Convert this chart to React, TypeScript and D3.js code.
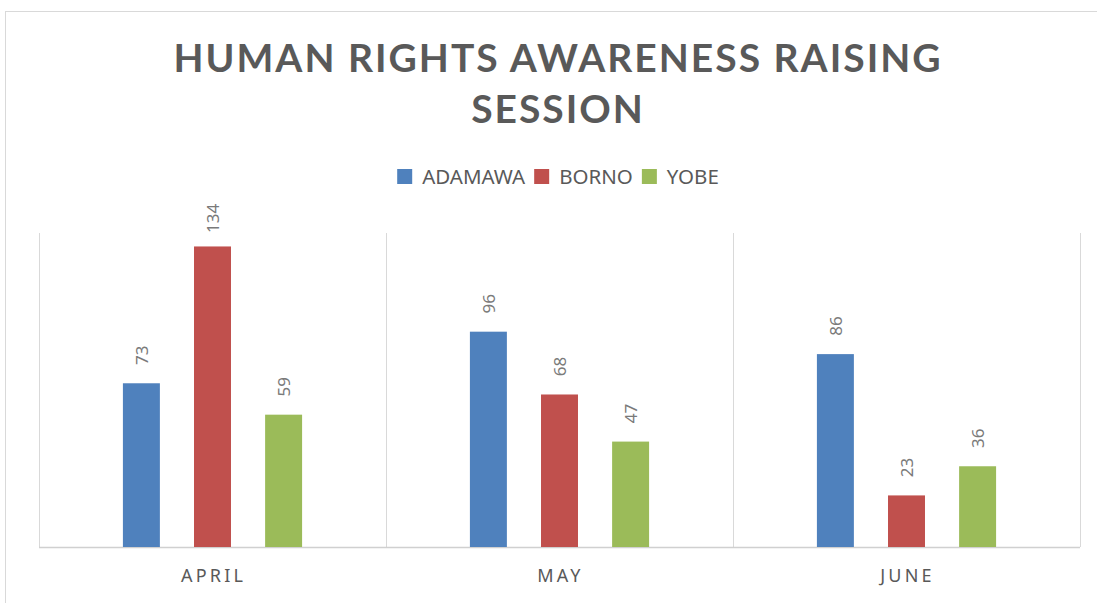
import React, { useEffect, useRef, ReactElement } from 'react'
import * as d3 from 'd3'

const months = ['APRIL', 'MAY', 'JUNE']
const states = ['ADAMAWA', 'BORNO', 'YOBE']
const adamawa = [73, 96, 86]
const borno = [134, 68, 23]
const yobe = [59, 47, 36]
const colors = ['#4f81bd', '#c0504d', '#9bbb59']
const titleLines = ['HUMAN RIGHTS AWARENESS RAISING', 'SESSION']

const App = (): ReactElement => {
  const ref = useRef<SVGSVGElement>(null)

  const drawChart = () => {
    const svg = d3.select(ref.current)
    svg.selectAll('*').remove()

    const width = 1097
    const height = 603
    const margin = { top: 233, right: 17, bottom: 56, left: 39 }
    const seriesValues = [adamawa, borno, yobe]
    const font = "'Noto Sans', 'Open Sans', sans-serif"
    const textColor = '#595959'
    const gridColor = '#d9d9d9'

    // outer chart frame (runs off the right/bottom edge of the picture)
    svg.append('rect')
      .attr('x', 5.5)
      .attr('y', 11.5)
      .attr('width', width + 20)
      .attr('height', height + 20)
      .attr('fill', 'white')
      .attr('stroke', gridColor)

    // title
    svg.append('g')
      .selectAll('text')
      .data(titleLines)
      .join('text')
      .attr('x', 558)
      .attr('y', (d, i) => 72 + i * 51)
      .attr('text-anchor', 'middle')
      .style('font-family', "Lato, 'Open Sans', sans-serif")
      .style('font-weight', 'bold')
      .style('font-size', '39px')
      .style('letter-spacing', '2px')
      .style('fill', textColor)
      .text(d => d)

    // scales
    const x0 = d3.scaleBand<string>()
      .domain(months)
      .range([margin.left, width - margin.right])
    const x1 = d3.scaleBand<string>()
      .domain(states)
      .range([0, x0.bandwidth()])
      .paddingInner(0.48)
      .paddingOuter(1.18)
    const y = d3.scaleLinear()
      .domain([0, 140])
      .range([height - margin.bottom, margin.top])

    // vertical category dividers
    const edges = [...months.map(m => x0(m) as number), width - margin.right]
    svg.append('g')
      .selectAll('line')
      .data(edges)
      .join('line')
      .attr('x1', d => Math.round(d) + 0.5)
      .attr('x2', d => Math.round(d) + 0.5)
      .attr('y1', margin.top)
      .attr('y2', height - margin.bottom)
      .attr('stroke', gridColor)

    // baseline
    svg.append('line')
      .attr('x1', margin.left)
      .attr('x2', width - margin.right)
      .attr('y1', height - margin.bottom + 0.5)
      .attr('y2', height - margin.bottom + 0.5)
      .attr('stroke', '#d0d0d0')
      .attr('stroke-width', 1.5)

    // bars
    const groups = svg.append('g')
      .selectAll('g')
      .data(months)
      .join('g')
      .attr('transform', d => `translate(${x0(d)},0)`)

    const cells = groups.selectAll('g')
      .data((m, mi) => states.map((s, si) => ({ state: s, si, value: seriesValues[si][mi] })))
      .join('g')

    cells.append('rect')
      .attr('x', d => x1(d.state) as number)
      .attr('y', d => y(d.value))
      .attr('width', x1.bandwidth())
      .attr('height', d => y(0) - y(d.value))
      .attr('fill', d => colors[d.si])

    // rotated value labels, centred a fixed distance above each bar
    cells.append('text')
      .attr('transform', d => `translate(${(x1(d.state) as number) + x1.bandwidth() / 2},${y(d.value) - 28}) rotate(-90)`)
      .attr('dy', '0.36em')
      .attr('text-anchor', 'middle')
      .style('font-family', font)
      .style('font-size', '17px')
      .style('fill', '#7a7a7a')
      .text(d => d.value)

    // category labels
    svg.append('g')
      .selectAll('text')
      .data(months)
      .join('text')
      .attr('x', d => (x0(d) as number) + x0.bandwidth() / 2 + 1)
      .attr('y', 582)
      .attr('text-anchor', 'middle')
      .style('font-family', font)
      .style('font-size', '18px')
      .style('letter-spacing', '3.2px')
      .style('fill', textColor)
      .text(d => d)

    // legend, measured and centred
    const legend = svg.append('g')
    const items = legend.selectAll('g')
      .data(states)
      .join('g')
    items.append('rect')
      .attr('width', 15)
      .attr('height', 15)
      .attr('y', 169)
      .attr('fill', (d, i) => colors[i])
    items.append('text')
      .attr('x', 25)
      .attr('y', 184)
      .style('font-family', font)
      .style('font-size', '20.5px')
      .style('fill', textColor)
      .text(d => d)
    let cursor = 0
    const offsets: number[] = []
    items.each(function () {
      const t = d3.select(this).select('text').node() as SVGTextElement
      offsets.push(cursor)
      cursor += 25 + t.getComputedTextLength() + 9
    })
    const total = cursor - 9
    items.attr('transform', (d, i) => `translate(${558 - total / 2 + offsets[i]},0)`)
  }

  useEffect(drawChart, [])

  return (
    <svg ref={ref} width={1097} height={603} style={{ position: 'absolute', left: 0, top: 0, background: 'white' }} />
  )
}

export default App
